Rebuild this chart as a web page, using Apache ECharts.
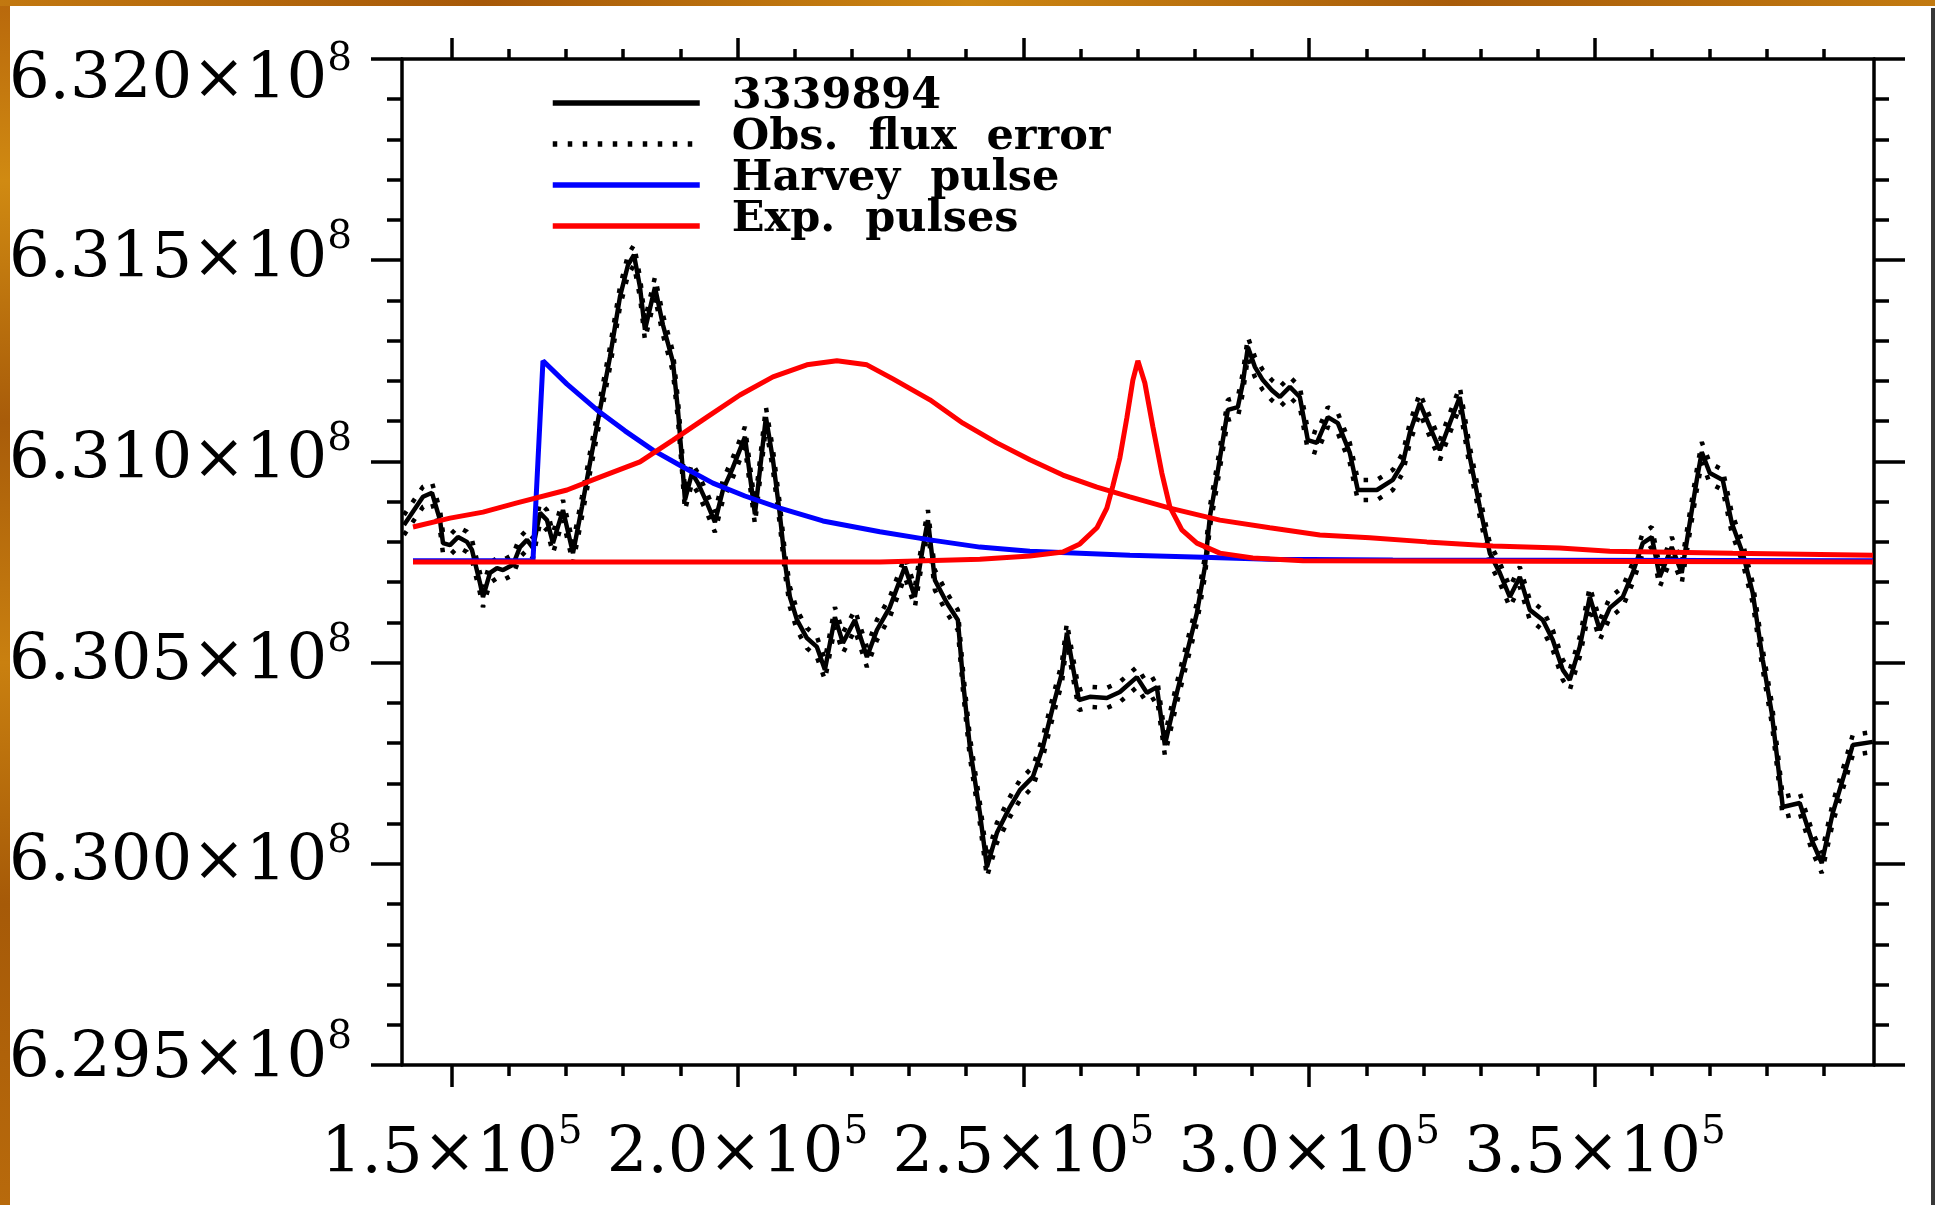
<!DOCTYPE html>
<html>
<head>
<meta charset="utf-8">
<script src="https://cdn.jsdelivr.net/npm/echarts@6/dist/echarts.min.js"></script>
<style>
  html, body { margin: 0; padding: 0; background: #ffffff; }
  #chart { width: 1935px; height: 1205px; }
</style>
</head>
<body>
<div id="chart"></div>
<script>
// Light curve of 3339894 with the fitted Harvey pulse and exponential pulses.

// observed light curve: time and flux
const time = [
  141650,144970,146550,147950,148470,149700,151090,152670,153540,154940,
  155470,156690,157920,158970,160710,161940,163160,164210,165440,166660,
  167710,169460,171210,172780,174180,175930,177680,179430,180830,181880,
  182930,183800,185550,186950,188700,189570,190270,190800,192020,193070,
  194640,196040,197440,199020,201290,203040,204960,206190,207410,208290,
  209160,210390,212130,213880,215280,217030,218430,220530,222630,224380,
  226650,229270,231020,232420,233300,234520,236620,238540,239420,240640,
  242390,243620,245370,247640,249390,251660,253410,255160,256730,257610,
  258660,259710,261630,264600,266880,269850,271600,273350,274750,276850,
  278600,280350,281750,282620,283840,284890,285770,287520,288390,289270,
  290490,291890,293460,294860,296610,298360,299760,301330,303260,305010,
  307110,308500,310080,311830,314630,316380,317600,319350,321100,322850,
  324600,326340,328090,329840,331590,333340,335090,336840,338590,340860,
  342610,344360,345580,347330,349080,350830,352580,354850,356600,358350,
  359930,361320,363420,365170,366570,367800,368670,370070,372340,373920,
  375840,377590,379340,380910,381960,382840,385810,387910,389660,391580,
  393680,395080,398580
];
const flux = [
  6.30842e8,6.30912e8,6.30922e8,6.30854e8,6.30797e8,6.30792e8,6.30812e8,6.30800e8,6.30780e8,6.30698e8,
  6.30663e8,6.30723e8,6.30735e8,6.30730e8,6.30743e8,6.30787e8,6.30805e8,6.30785e8,6.30872e8,6.30854e8,
  6.30797e8,6.30879e8,6.30772e8,6.30887e8,6.30996e8,6.31128e8,6.31259e8,6.31409e8,6.31488e8,6.31513e8,
  6.31433e8,6.31327e8,6.31433e8,6.31339e8,6.31247e8,6.31128e8,6.31004e8,6.30904e8,6.30971e8,6.30946e8,
  6.30897e8,6.30849e8,6.30929e8,6.30979e8,6.31061e8,6.30869e8,6.31110e8,6.31004e8,6.30867e8,6.30748e8,
  6.30663e8,6.30606e8,6.30561e8,6.30539e8,6.30482e8,6.30613e8,6.30549e8,6.30606e8,6.30514e8,6.30581e8,
  6.30638e8,6.30738e8,6.30663e8,6.30787e8,6.30854e8,6.30705e8,6.30648e8,6.30606e8,6.30457e8,6.30290e8,
  6.30126e8,6.29992e8,6.30077e8,6.30141e8,6.30183e8,6.30216e8,6.30290e8,6.30390e8,6.30474e8,6.30574e8,
  6.30489e8,6.30407e8,6.30415e8,6.30412e8,6.30427e8,6.30464e8,6.30425e8,6.30439e8,6.30295e8,6.30425e8,
  6.30524e8,6.30623e8,6.30738e8,6.30862e8,6.30961e8,6.31053e8,6.31128e8,6.31135e8,6.31195e8,6.31284e8,
  6.31235e8,6.31202e8,6.31177e8,6.31160e8,6.31185e8,6.31160e8,6.31053e8,6.31046e8,6.31110e8,6.31095e8,
  6.31021e8,6.30929e8,6.30929e8,6.30929e8,6.30954e8,6.30996e8,6.31071e8,6.31145e8,6.31086e8,6.31028e8,
  6.31095e8,6.31160e8,6.31011e8,6.30887e8,6.30772e8,6.30723e8,6.30663e8,6.30713e8,6.30631e8,6.30606e8,
  6.30556e8,6.30482e8,6.30457e8,6.30539e8,6.30663e8,6.30581e8,6.30636e8,6.30663e8,6.30723e8,6.30797e8,
  6.30812e8,6.30713e8,6.30787e8,6.30723e8,6.30847e8,6.30954e8,6.31023e8,6.30971e8,6.30954e8,6.30847e8,
  6.30772e8,6.30673e8,6.30507e8,6.30375e8,6.30251e8,6.30141e8,6.30151e8,6.30059e8,6.30002e8,6.30126e8,
  6.30226e8,6.30295e8,6.30303e8
];
// observational flux uncertainty
const obsFluxError = 25000;

// Harvey pulse model
const harveyTime = [143220,164210,165960,170160,175410,180300,185200,190450,195690,201290,207410,
  214930,224900,233650,242390,251140,259880,268630,281400,293110,314630,398600];
const harveyFlux = [6.30753e8,6.30753e8,6.31250e8,6.31192e8,6.31128e8,6.31076e8,6.31028e8,6.30986e8,
  6.30946e8,6.30914e8,6.30884e8,6.30852e8,6.30825e8,6.30805e8,6.30787e8,6.30777e8,6.30772e8,6.30767e8,
  6.30762e8,6.30757e8,6.30755e8,6.30753e8];

// exponential pulses: broad one and narrow one
const expBroadTime = [143220,149700,155470,161410,170160,175930,182930,188700,194640,200420,206190,
  212130,217380,222630,227180,233650,239420,245370,251140,256910,262860,268630,275620,284370,293110,
  301860,310600,320570,332120,343830,352580,374090,398600];
const expBroadFlux = [6.30837e8,6.30859e8,6.30874e8,6.30897e8,6.30929e8,6.30961e8,6.30999e8,6.31053e8,
  6.31110e8,6.31165e8,6.31210e8,6.31240e8,6.31250e8,6.31240e8,6.31205e8,6.31153e8,6.31095e8,6.31046e8,
  6.31004e8,6.30966e8,6.30936e8,6.30912e8,6.30884e8,6.30854e8,6.30835e8,6.30817e8,6.30810e8,6.30800e8,
  6.30790e8,6.30785e8,6.30777e8,6.30772e8,6.30767e8];
const expNarrowTime = [143220,224900,242390,251140,256910,259880,262860,264600,265650,266880,268100,
  269150,270030,271250,272650,274220,275620,277720,280350,284370,290140,298890,398600];
const expNarrowFlux = [6.30750e8,6.30750e8,6.30757e8,6.30765e8,6.30775e8,6.30795e8,6.30835e8,6.30884e8,
  6.30939e8,6.31009e8,6.31108e8,6.31202e8,6.31250e8,6.31195e8,6.31086e8,6.30971e8,6.30887e8,6.30830e8,
  6.30797e8,6.30772e8,6.30760e8,6.30753e8,6.30750e8];

// axis ranges and ticks
const xMin = 141300, xMax = 398800;
const xMajorTicks = [150000, 200000, 250000, 300000, 350000];
const xMinorTicks = [160000,170000,180000,190000,210000,220000,230000,240000,260000,270000,280000,
  290000,310000,320000,330000,340000,360000,370000,380000,390000];
const yMin = 6.295e8, yMax = 6.320e8, yStep = 5e5;
const xExponent = 5, yExponent = 8;

const SERIF = 'DejaVu Serif';
const pair = (xs, ys) => xs.map((x, i) => [x, ys[i]]);

// rich-text pieces: mantissa with "x10" and a raised exponent
const mant = { fontFamily: SERIF, fontSize: 64, height: 64, verticalAlign: 'bottom', color: '#000' };
const expo = { fontFamily: SERIF, fontSize: 39, height: 20, verticalAlign: 'top', color: '#000' };
const labelRich = {
  m:  mant,
  s:  expo,
  mT: Object.assign({}, mant, { padding: [44, 0, 0, 0] }),
  sT: Object.assign({}, expo, { padding: [45, 0, 0, 0] }),
  mB: Object.assign({}, mant, { padding: [0, 0, 10, 0] }),
  sB: expo
};

const black = { color: '#000', width: 3.5 };

function xAxisDef(position, ticks, len, withLine, withLabels) {
  return {
    type: 'value', position: position, min: xMin, max: xMax,
    axisLine: { show: withLine, lineStyle: black },
    axisTick: { show: true, inside: false, customValues: ticks, length: len, lineStyle: black },
    axisLabel: withLabels ? {
      show: true, customValues: ticks, margin: 58, fontFamily: SERIF,
      formatter: v => `{m|${(v / Math.pow(10, xExponent)).toFixed(1)}\u00d710}{s|${xExponent}}`,
      rich: labelRich
    } : { show: false },
    splitLine: { show: false }
  };
}

function yAxisDef(position, withLabels) {
  return {
    type: 'value', position: position, min: yMin, max: yMax, interval: yStep,
    axisLine: { show: true, lineStyle: black },
    axisTick: { show: true, inside: false, length: 31, lineStyle: black },
    minorTick: { show: true, splitNumber: 5, length: 15, lineStyle: black },
    axisLabel: withLabels ? {
      show: true, margin: 50, fontFamily: SERIF,
      formatter: v => {
        const tag = Math.abs(v - yMax) < 1 ? 'T' : (Math.abs(v - yMin) < 1 ? 'B' : '');
        return `{m${tag}|${(v / Math.pow(10, yExponent)).toFixed(3)}\u00d710}{s${tag}|${yExponent}}`;
      },
      rich: labelRich
    } : { show: false },
    splitLine: { show: false }
  };
}

const lineSeries = (name, data, style) => ({
  type: 'line', name: name, data: data, showSymbol: false, symbol: 'none',
  smooth: false, clip: true, itemStyle: { color: style.color }, lineStyle: style
});

const errStyle = { color: '#000', width: 4.5, type: [4.5, 10.5], cap: 'butt' };

const option = {
  backgroundColor: '#ffffff',
  animation: false,
  grid: { left: 402, top: 59, right: 61, bottom: 140, containLabel: false },
  xAxis: [
    xAxisDef('bottom', xMajorTicks, 22, true, true),
    xAxisDef('bottom', xMinorTicks, 11, false, false),
    xAxisDef('top', xMajorTicks, 21, true, false),
    xAxisDef('top', xMinorTicks, 10, false, false)
  ],
  yAxis: [
    yAxisDef('left', true),
    yAxisDef('right', false)
  ],
  legend: {
    data: ['3339894', 'Obs. flux error', 'Harvey pulse', 'Exp. pulses'],
    orient: 'vertical', left: 550, top: 75, padding: 0, itemGap: -2,
    itemWidth: 147, itemHeight: 14, selectedMode: false,
    itemStyle: { opacity: 0, borderWidth: 0 },
    lineStyle: { width: 5.5 },
    formatter: name => `{a|${name.replace(/ /g, '  ')}}`,
    textStyle: {
      fontFamily: SERIF, fontWeight: 'bold', fontSize: 43, color: '#000',
      rich: {
        a: { fontFamily: SERIF, fontWeight: 'bold', fontSize: 43, color: '#000',
             height: 29, padding: [0, 0, 13, 27] }
      }
    }
  },
  graphic: {
    elements: [
      {
        type: 'rect', silent: true, shape: { x: 0, y: 0, width: 10, height: 1205 },
        style: { fill: new echarts.graphic.LinearGradient(0, 0, 0, 1, [
          { offset: 0, color: '#b8680c' }, { offset: 0.15, color: '#d08a12' },
          { offset: 0.35, color: '#a85c0a' }, { offset: 0.55, color: '#c98010' },
          { offset: 0.75, color: '#a65a08' }, { offset: 1, color: '#b86a0c' }]) }
      },
      {
        type: 'rect', silent: true, shape: { x: 0, y: 0, width: 1935, height: 6 },
        style: { fill: new echarts.graphic.LinearGradient(0, 0, 1, 0, [
          { offset: 0, color: '#c27810' }, { offset: 0.25, color: '#a65808' },
          { offset: 0.5, color: '#cc8612' }, { offset: 0.75, color: '#a85c0a' },
          { offset: 1, color: '#c27a10' }]) }
      },
      {
        type: 'rect', silent: true, shape: { x: 1931, y: 8, width: 4, height: 1197 },
        style: { fill: '#383838' }
      }
    ]
  },
  series: [
    lineSeries('3339894', pair(time, flux), { color: '#000', width: 4.5 }),
    lineSeries('Obs. flux error', pair(time, flux.map(f => f + obsFluxError)), errStyle),
    lineSeries('Obs. flux error', pair(time, flux.map(f => f - obsFluxError)), errStyle),
    lineSeries('Harvey pulse', pair(harveyTime, harveyFlux), { color: '#0000ff', width: 5 }),
    lineSeries('Exp. pulses', pair(expBroadTime, expBroadFlux), { color: '#ff0000', width: 5 }),
    lineSeries('Exp. pulses', pair(expNarrowTime, expNarrowFlux), { color: '#ff0000', width: 5 })
  ]
};

const chart = echarts.init(document.getElementById('chart'), null, { renderer: 'canvas' });
chart.setOption(option);
</script>
</body>
</html>
